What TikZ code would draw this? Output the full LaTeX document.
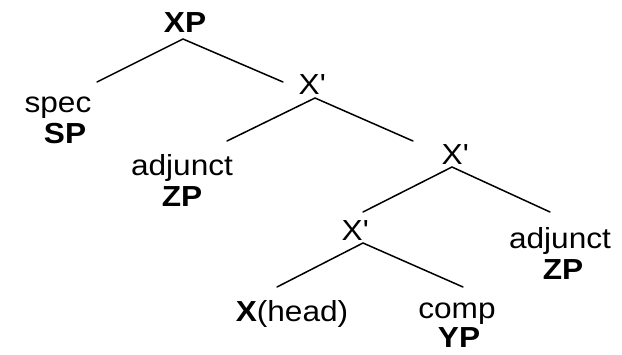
\documentclass[tikz,border=0pt]{standalone}
\usepackage{fontspec}
\setmainfont{Liberation Sans}[FakeStretch=1.09]
\begin{document}
\begin{tikzpicture}[x=1pt,y=-1pt,
  lbl/.style={anchor=base,inner sep=0pt,font=\fontsize{29}{31}\selectfont},
  branch/.style={line width=1.5pt,line cap=round}]
\useasboundingbox[fill=white] (0,0) rectangle (622,354);
% labels
\node[lbl] (xp)   at (185,32)  {\textbf{XP}};
\node[lbl] (spec) at (58,112)  {\begin{tabular}[t]{@{}c@{}}spec\\\hspace*{14pt}\textbf{SP}\end{tabular}};
\node[lbl] (xb1)  at (312,94)  {X\textquotesingle};
\node[lbl] (adjl) at (182,175) {\begin{tabular}[t]{@{}c@{}}adjunct\\\textbf{ZP}\end{tabular}};
\node[lbl] (xb2)  at (455,164) {X\textquotesingle};
\node[lbl] (xb3)  at (355,240) {X\textquotesingle};
\node[lbl] (adjr) at (560,248) {\begin{tabular}[t]{@{}c@{}}adjunct\\\hspace*{6pt}\textbf{ZP}\end{tabular}};
\node[lbl] (head) at (292,321) {\textbf{X}(head)};
\node[lbl] (comp) at (457,318) {\begin{tabular}[t]{@{}c@{}}comp\\[-2pt]\hspace*{4pt}\textbf{YP}\end{tabular}};
% branch points
\coordinate (xp-a)   at (183,39);
\coordinate (spec-t) at (97,82);
\coordinate (xb1-t)  at (283,82);
\coordinate (xb1-a)  at (315,98);
\coordinate (adjl-t) at (227,141);
\coordinate (xb2-t)  at (413,141);
\coordinate (xb2-a)  at (452,167);
\coordinate (xb3-t)  at (363,212);
\coordinate (adjr-t) at (550,212);
\coordinate (xb3-a)  at (363,243);
\coordinate (head-t) at (277,287);
\coordinate (comp-t) at (463,287);
% branches
\draw[branch] (spec-t) -- (xp-a) -- (xb1-t);
\draw[branch] (adjl-t) -- (xb1-a) -- (xb2-t);
\draw[branch] (xb3-t) -- (xb2-a) -- (adjr-t);
\draw[branch] (head-t) -- (xb3-a) -- (comp-t);
\end{tikzpicture}
\end{document}
